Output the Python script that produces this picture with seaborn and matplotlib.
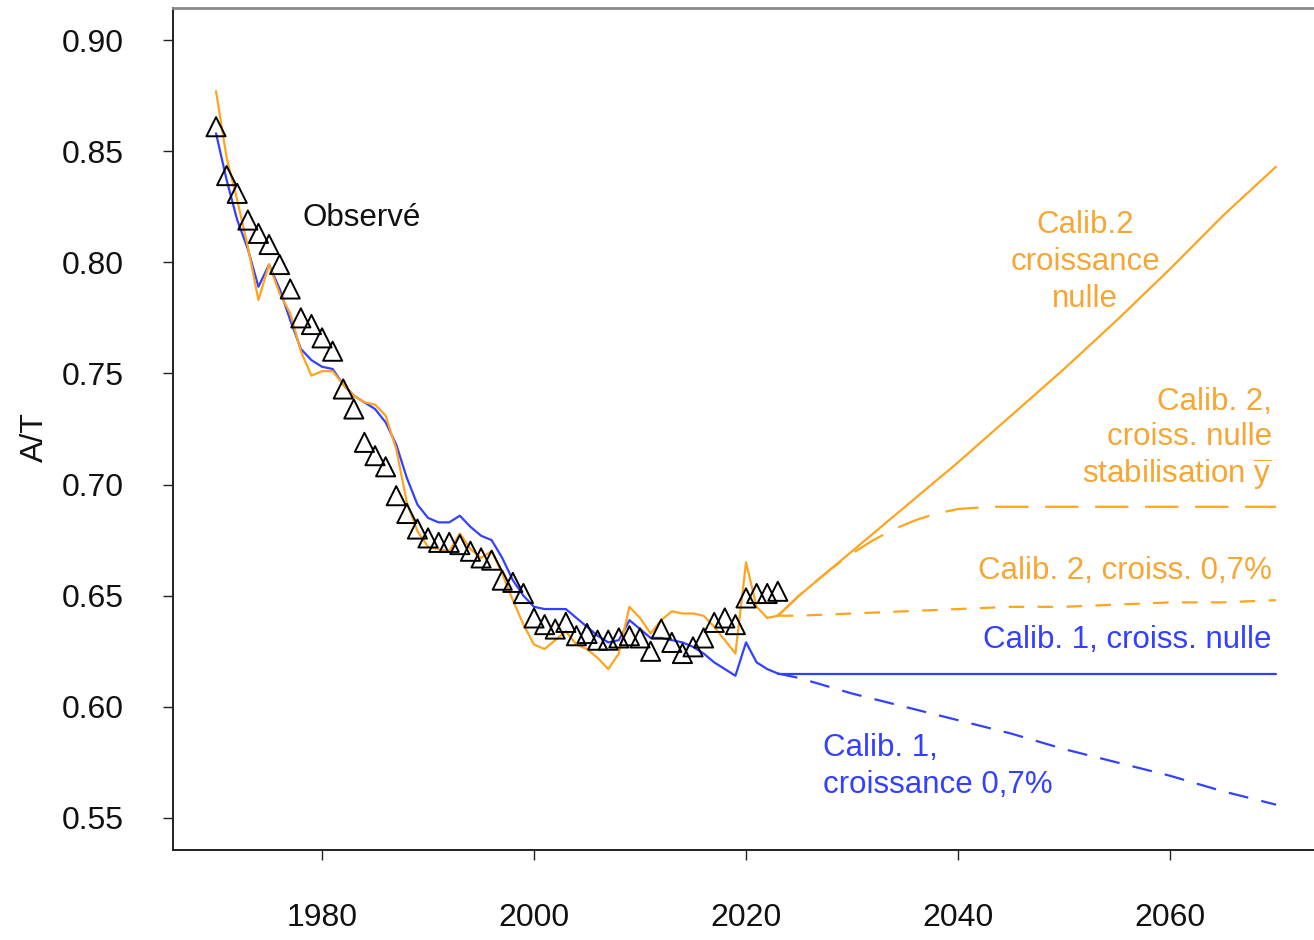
import numpy as np
import pandas as pd
import matplotlib
matplotlib.use("Agg")
import matplotlib.pyplot as plt
import seaborn as sns

# ---------------- data ----------------
obs_years = list(range(1970, 2024))
obs_values = [0.861, 0.839, 0.831, 0.819, 0.813, 0.808, 0.799, 0.788, 0.775, 0.772,
              0.766, 0.760, 0.743, 0.734, 0.719, 0.713, 0.708, 0.695, 0.687, 0.680,
              0.676, 0.674, 0.674, 0.673, 0.670, 0.667, 0.666, 0.657, 0.656, 0.651,
              0.640, 0.637, 0.635, 0.638, 0.632, 0.633, 0.630, 0.630, 0.631, 0.632,
              0.631, 0.625, 0.635, 0.629, 0.624, 0.627, 0.631, 0.638, 0.640, 0.637,
              0.649, 0.651, 0.651, 0.652]

hist_years = list(range(1970, 2024))
calib1_hist = [0.858, 0.837, 0.819, 0.806, 0.789, 0.799, 0.788, 0.774, 0.761, 0.756,
               0.753, 0.752, 0.745, 0.740, 0.737, 0.734, 0.728, 0.718, 0.703, 0.691,
               0.685, 0.683, 0.683, 0.686, 0.681, 0.677, 0.675, 0.667, 0.657, 0.650,
               0.645, 0.644, 0.644, 0.644, 0.640, 0.636, 0.632, 0.629, 0.630, 0.639,
               0.635, 0.631, 0.631, 0.630, 0.629, 0.627, 0.624, 0.620, 0.617, 0.614,
               0.629, 0.620, 0.617, 0.615]
calib2_hist = [0.877, 0.847, 0.828, 0.807, 0.783, 0.799, 0.786, 0.777, 0.760, 0.749,
               0.751, 0.751, 0.745, 0.740, 0.737, 0.736, 0.731, 0.716, 0.692, 0.679,
               0.672, 0.671, 0.670, 0.678, 0.671, 0.667, 0.670, 0.660, 0.648, 0.637,
               0.628, 0.626, 0.630, 0.634, 0.628, 0.626, 0.622, 0.617, 0.624, 0.645,
               0.640, 0.633, 0.639, 0.643, 0.642, 0.642, 0.641, 0.636, 0.630, 0.624,
               0.665, 0.645, 0.640, 0.641]

proj_years = [2023, 2025, 2030, 2035, 2040, 2045, 2050, 2055, 2060, 2065, 2070]
calib1_nulle = [0.615, 0.615, 0.615, 0.615, 0.615, 0.615, 0.615, 0.615, 0.615, 0.615, 0.615]
calib1_07 = [0.615, 0.613, 0.606, 0.600, 0.594, 0.588, 0.581, 0.575, 0.569, 0.562, 0.556]
calib2_nulle = [0.641, 0.650, 0.670, 0.690, 0.710, 0.731, 0.752, 0.774, 0.797, 0.821, 0.843]
calib2_07 = [0.641, 0.641, 0.642, 0.643, 0.644, 0.645, 0.645, 0.646, 0.647, 0.647, 0.648]

stab_years = [2023, 2025, 2028, 2030, 2032, 2034, 2036, 2038, 2040, 2043, 2046, 2050, 2060, 2070]
calib2_stab = [0.641, 0.650, 0.662, 0.669, 0.675, 0.680, 0.684, 0.687, 0.689, 0.690, 0.690,
               0.690, 0.690, 0.690]

y_ticks = [0.55, 0.60, 0.65, 0.70, 0.75, 0.80, 0.85, 0.90]
x_ticks = [1980, 2000, 2020, 2040, 2060]

# ---------------- style ----------------
BLUE = "#3340FF"
ORANGE = "#FFA41F"
ORANGE_TXT = "#F7A634"

sns.set_theme(style="ticks")
plt.rcParams["font.family"] = ["Liberation Sans", "DejaVu Sans"]
plt.rcParams["mathtext.fontset"] = "custom"
plt.rcParams["mathtext.rm"] = "Liberation Sans"
plt.rcParams["mathtext.it"] = "Liberation Sans"

W, H = 1314, 940
fig = plt.figure(figsize=(W / 100, H / 100), dpi=100)
ax = fig.add_axes([173 / W, 1 - 850 / H, (1320 - 173) / W, (850 - 8) / H])

lw = 1.6
# historical model lines
sns.lineplot(x=hist_years, y=calib1_hist, ax=ax, color=BLUE, lw=lw)
sns.lineplot(x=hist_years, y=calib2_hist, ax=ax, color=ORANGE, lw=lw)
# projections
sns.lineplot(x=proj_years, y=calib1_nulle, ax=ax, color=BLUE, lw=lw)
sns.lineplot(x=proj_years, y=calib1_07, ax=ax, color=BLUE, lw=lw, linestyle=(0, (9, 6)))
sns.lineplot(x=proj_years, y=calib2_nulle, ax=ax, color=ORANGE, lw=lw)
sns.lineplot(x=stab_years, y=calib2_stab, ax=ax, color=ORANGE, lw=lw, linestyle=(0, (15, 7.5)))
sns.lineplot(x=proj_years, y=calib2_07, ax=ax, color=ORANGE, lw=lw, linestyle=(0, (7, 6)))
# observed
sns.scatterplot(x=obs_years, y=obs_values, ax=ax, marker="^", s=190,
                facecolors="none", edgecolor="black", linewidth=1.4, zorder=5)

# ---------------- axes ----------------
ax.set_xlim(1965.94, 2074.15)
ax.set_ylim(0.5356, 0.9144)
ax.set_xticks(x_ticks)
ax.set_yticks(y_ticks)
ax.set_yticklabels([f"{v:.2f}" for v in y_ticks])
ax.tick_params(axis="both", direction="out", length=7.2, width=1.0, color="#222222",
               labelsize=23, labelcolor="#111111")
ax.tick_params(axis="x", pad=31)
ax.tick_params(axis="y", pad=28)
for side in ["left", "bottom"]:
    ax.spines[side].set_color("#222222")
    ax.spines[side].set_linewidth(1.4)
ax.spines["top"].set_color("#8a8a8a")
ax.spines["top"].set_linewidth(2.0)
ax.spines["right"].set_visible(False)

ax.set_ylabel("A/T", fontsize=23, color="#111111")
ax.yaxis.set_label_coords((50 - 173) / 1147, (850 - 437) / 842)
ax.set_xlabel("")

# ---------------- annotations ----------------
fs = 22.5
ls = 1.3
ax.text(1978.2, 0.820, "Observé", fontsize=fs, color="#111111", ha="left", va="center")
ax.text(2052.0, 0.800, "Calib.2\ncroissance\nnulle", fontsize=fs, color=ORANGE_TXT,
        ha="center", va="center", linespacing=ls)
ax.text(2069.6, 0.720, "Calib. 2,\ncroiss. nulle\nstabilisation $\\overline{y}$", fontsize=fs,
        color=ORANGE_TXT, ha="right", va="center", linespacing=1.2)
ax.text(2069.6, 0.661, "Calib. 2, croiss. 0,7%", fontsize=fs, color=ORANGE_TXT,
        ha="right", va="center")
ax.text(2069.6, 0.630, "Calib. 1, croiss. nulle", fontsize=fs, color=BLUE,
        ha="right", va="center")
ax.text(2027.3, 0.573, "Calib. 1,\ncroissance 0,7%", fontsize=fs, color=BLUE,
        ha="left", va="center", linespacing=ls)

fig.savefig("out.png", dpi=100, facecolor="white")
